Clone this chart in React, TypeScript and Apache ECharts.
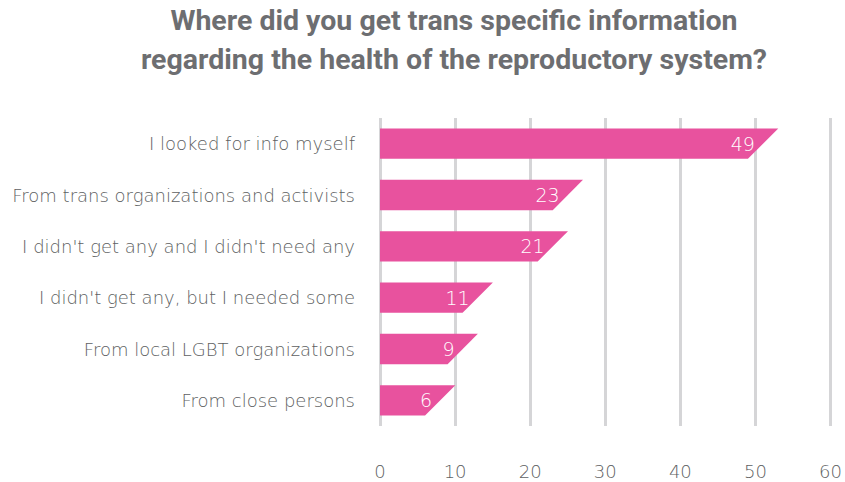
import React, { useEffect, useRef } from "react";
import * as echarts from "echarts";

const titleLines = [
  "Where did you get trans specific information",
  "regarding the health of the reproductory system?",
];
const categories = [
  "I looked for info myself",
  "From trans organizations and activists",
  "I didn't get any and I didn't need any",
  "I didn't get any, but I needed some",
  "From local LGBT organizations",
  "From close persons",
];
const values = [49, 23, 21, 11, 9, 6];
const xTicks = { min: 0, max: 60, interval: 10 };

const PINK = "#e8529e";
const GRAY = "#6d6e71";
const LABEL_GRAY = "#5e5f62";
const FONT = "Roboto";
const LIGHT_FONT = "'DejaVu Sans'";

export default function App() {
  const ref = useRef<HTMLDivElement>(null);
  useEffect(() => {
    if (!ref.current) return;
    const chart = echarts.init(ref.current, undefined, { renderer: "svg" });
    const data = values.map((v, i) => [v, i]);
    chart.setOption({
      animation: false,
      title: {
        text: titleLines.join("\n"),
        left: 449,
        textAlign: "center",
        top: -4,
        textStyle: {
          fontFamily: FONT,
          fontWeight: "bold",
          fontSize: 28.5,
          lineHeight: 39,
          color: GRAY,
        },
      },
      grid: { left: 380, right: 12, top: 118, bottom: 56, containLabel: false },
      xAxis: {
        type: "value",
        min: xTicks.min,
        max: xTicks.max,
        interval: xTicks.interval,
        axisLine: { show: false },
        axisTick: { show: false },
        splitLine: { show: true, lineStyle: { color: "#d5d5d7", width: 3 } },
        axisLabel: {
          margin: 36,
          fontFamily: LIGHT_FONT,
          fontWeight: 200,
          fontSize: 18,
          color: LABEL_GRAY,
        },
      },
      yAxis: {
        type: "category",
        data: categories,
        inverse: true,
        axisLine: { show: false },
        axisTick: { show: false },
        splitLine: { show: false },
        axisLabel: {
          margin: 25,
          fontFamily: LIGHT_FONT,
          fontWeight: 200,
          fontSize: 18,
          color: LABEL_GRAY,
        },
      },
      series: [
        {
          type: "custom",
          data,
          encode: { x: 0, y: 1 },
          renderItem: (params: any, api: any) => {
            const v = api.value(0);
            const idx = api.value(1);
            const end = api.coord([v, idx]);
            const start = api.coord([0, idx]);
            const band = api.size([0, 1])[1];
            const h = band * 0.59;
            const y0 = end[1] - h / 2;
            const y1 = end[1] + h / 2;
            return {
              type: "group",
              children: [
                {
                  type: "polygon",
                  shape: {
                    points: [
                      [start[0], y0],
                      [end[0] + h, y0],
                      [end[0], y1],
                      [start[0], y1],
                    ],
                  },
                  style: { fill: PINK },
                },
                {
                  type: "text",
                  x: end[0] + 7,
                  y: end[1],
                  style: {
                    text: String(v),
                    fill: "#ffffff",
                    font: `200 19px ${LIGHT_FONT}`,
                    align: "right",
                    verticalAlign: "middle",
                  },
                },
              ],
            };
          },
        },
      ],
    });
    return () => chart.dispose();
  }, []);
  return <div ref={ref} style={{ width: 845, height: 482, position: "absolute", left: 0, top: 0 }} />;
}
